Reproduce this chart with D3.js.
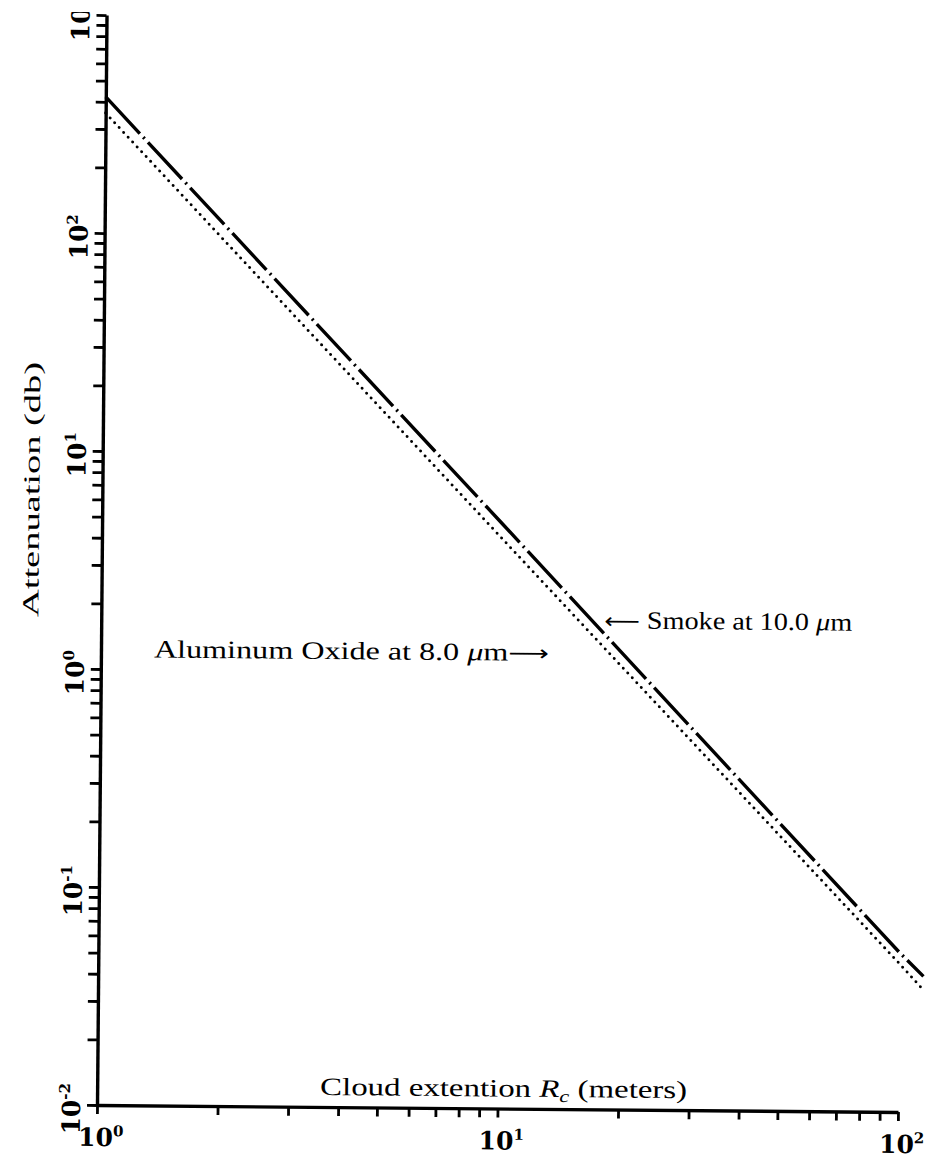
<!DOCTYPE html>
<html>
<head>
<meta charset="utf-8">
<script src="https://cdn.jsdelivr.net/npm/d3@7"></script>
<style>
body { margin: 0; background: #fff; }
</style>
</head>
<body>
<div class="attenuation-plot"></div>
<script>
// decades on each axis and their exponent labels
const xDecades = [1, 10, 100];
const xExponents = ['0', '1', '2'];
const yDecades = [0.01, 0.1, 1, 10, 100, 1000];
const yExponents = ['-2', '-1', '0', '1', '2', '3'];

// readings of the two curves (cloud extention in m, attenuation in db)
const smokeX = [1, 10, 100, 115];
const smokeY = [421, 4.8, 0.054, 0.042];
const aluminaX = [1, 10, 100, 114];
const aluminaY = [355, 4.1, 0.048, 0.037];

const width = 947;
const height = 1159;

const svg = d3.select('.attenuation-plot')
    .append('svg')
    .attr('width', width)
    .attr('height', height)
    .style('font-family', 'Liberation Serif, serif');

// the scanned figure is tilted a little clockwise
const g = svg.append('g')
    .attr('transform', 'rotate(0.5, 97, 1105)');

const x = d3.scaleLog().domain([1, 100]).range([97, 898]);
const y = d3.scaleLog().domain([0.01, 1000]).range([1105, 15]);

// all ticks 1..9 for each decade
const minor = ds => ds.slice(0, -1)
    .flatMap(d => d3.range(1, 10).map(k => d * k))
    .concat(ds[ds.length - 1]);

const yAxis = g.append('g')
    .attr('transform', `translate(${x(1)},0)`)
    .call(d3.axisLeft(y).tickValues(minor(yDecades)).tickFormat('').tickSize(10).tickSizeOuter(0));

const xAxis = g.append('g')
    .attr('transform', `translate(0,${y(0.01)})`)
    .call(d3.axisBottom(x).tickValues(minor(xDecades)).tickFormat('').tickSize(9).tickSizeOuter(0));

g.selectAll('.domain').attr('stroke', '#000').attr('stroke-width', 3.4);
g.selectAll('.tick line').attr('stroke', '#000').attr('stroke-width', 2.8);

// tick labels, "10" with a raised exponent
yAxis.selectAll('.ylab')
    .data(yDecades)
    .enter()
    .append('text')
    .attr('class', 'ylab')
    .attr('transform', d => `translate(-17,${y(d) + 4}) rotate(-90)`)
    .attr('text-anchor', 'middle')
    .attr('font-family', 'DejaVu Serif, serif')
    .attr('font-size', 25)
    .attr('font-weight', 'bold')
    .attr('fill', '#000')
    .each(function(d, i) {
        const t = d3.select(this);
        t.append('tspan').text('10');
        t.append('tspan').attr('dy', -10).attr('font-size', 15).text(yExponents[i]);
    });

xAxis.selectAll('.xlab')
    .data(xDecades)
    .enter()
    .append('text')
    .attr('class', 'xlab')
    .attr('x', d => x(d) + 4)
    .attr('y', 41)
    .attr('text-anchor', 'middle')
    .attr('font-family', 'DejaVu Serif, serif')
    .attr('font-size', 25)
    .attr('font-weight', 'bold')
    .attr('fill', '#000')
    .each(function(d, i) {
        const t = d3.select(this);
        t.append('tspan').text('10');
        t.append('tspan').attr('dy', -10).attr('font-size', 15).text(xExponents[i]);
    });

// curves
const line = d3.line()
    .x(d => x(d[0]))
    .y(d => y(d[1]));

g.append('path')
    .datum(d3.zip(aluminaX, aluminaY))
    .attr('d', line)
    .attr('fill', 'none')
    .attr('stroke', '#000')
    .attr('stroke-width', 3)
    .attr('stroke-linecap', 'round')
    .attr('stroke-dasharray', '0 6.6');

g.append('path')
    .datum(d3.zip(smokeX, smokeY))
    .attr('d', line)
    .attr('fill', 'none')
    .attr('stroke', '#000')
    .attr('stroke-width', 3.4)
    .attr('stroke-dasharray', '50 5 2 5');

// axis titles
g.append('text')
    .attr('transform', 'translate(34,490) rotate(-90)')
    .attr('text-anchor', 'middle')
    .attr('font-size', 23)
    .attr('textLength', 255)
    .attr('lengthAdjust', 'spacingAndGlyphs')
    .text('Attenuation (db)');

const xTitle = g.append('text')
    .attr('x', 320)
    .attr('y', 1093)
    .attr('font-size', 25)
    .attr('textLength', 367)
    .attr('lengthAdjust', 'spacingAndGlyphs');
xTitle.append('tspan').text('Cloud extention ');
xTitle.append('tspan').attr('font-style', 'italic').text('R');
xTitle.append('tspan').attr('font-style', 'italic').attr('font-size', 17).attr('dy', 5).text('c');
xTitle.append('tspan').attr('dy', -5).text(' (meters)');

// curve annotations
const smokeLab = g.append('text')
    .attr('x', 600)
    .attr('y', 624)
    .attr('font-size', 25)
    .attr('textLength', 248)
    .attr('lengthAdjust', 'spacingAndGlyphs');
smokeLab.append('tspan').attr('font-family', 'DejaVu Sans').attr('font-size', 22).text('\u27F5');
smokeLab.append('tspan').text(' Smoke at 10.0 ');
smokeLab.append('tspan').attr('font-style', 'italic').text('\u03BC');
smokeLab.append('tspan').text('m');

const alLab = g.append('text')
    .attr('x', 150)
    .attr('y', 657)
    .attr('font-size', 25)
    .attr('textLength', 395)
    .attr('lengthAdjust', 'spacingAndGlyphs');
alLab.append('tspan').text('Aluminum Oxide at 8.0 ');
alLab.append('tspan').attr('font-style', 'italic').text('\u03BC');
alLab.append('tspan').text('m');
alLab.append('tspan').attr('font-family', 'DejaVu Sans').attr('font-size', 22).text('\u27F6');

// the scan's top edge trims the topmost label
svg.append('rect')
    .attr('x', 0)
    .attr('y', 0)
    .attr('width', width)
    .attr('height', 12)
    .attr('fill', '#fff');
</script>
</body>
</html>
